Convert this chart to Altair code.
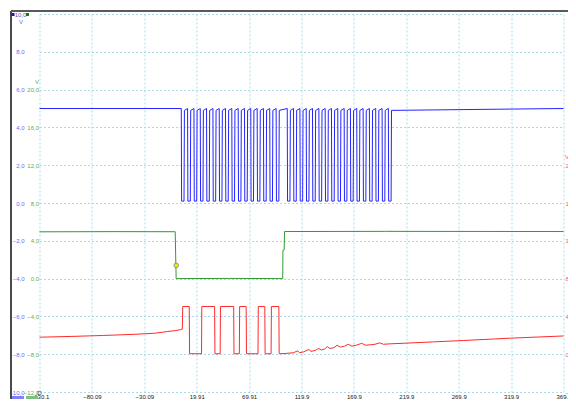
import altair as alt
import pandas as pd

# ---------------- data ----------------
x_ticks = [-130.09, -80.09, -30.09, 19.91, 69.91, 119.91, 169.91, 219.91, 269.91, 319.91, 369.91]
blue_ticks = [-10, -8, -6, -4, -2, 0, 2, 4, 6, 8, 10]
green_ticks = [-12, -8, -4, 0, 4, 8, 12, 16, 20]
red_ticks = [-4, 0, 4, 8, 12, 16, 20]

# blue channel: falling-edge times of each pulse (V: 5.0 high / 0.1 low)
blue_high = 5.0
blue_low = 0.1
blue_falls = [5.2, 11.2, 17.3, 23.3, 29.3, 35.4, 41.4, 47.4, 53.4, 59.5, 65.5, 71.5,
              77.6, 83.6, 89.6, 95.7,
              106.3, 112.3, 118.4, 124.4, 130.4, 136.5, 142.5, 148.5, 154.5, 160.6,
              166.6, 172.6, 178.7, 184.7, 190.7, 196.8, 202.8]
blue_low_len = [2.6] * len(blue_falls)

# green channel
green_t = [-130.09, -60.0, -0.6, 0.3, 50.0, 102.0, 102.2, 103.4, 103.7, 200.0, 369.91]
green_v = [4.95, 4.97, 4.96, 0.0, 0.02, 0.0, 3.0, 3.05, 4.98, 5.0, 4.98]
marker_t = [0.4]
marker_v = [1.4]

# red channel
red_pre_t = [-130.09, -100.0, -70.0, -40.0, -20.0, -8.0, 0.0, 4.6, 6.2]
red_pre_v = [1.8, 1.88, 1.98, 2.1, 2.22, 2.4, 2.5, 2.6, 2.65]
red_pulse_start = [6.6, 24.8, 42.6, 60.9, 78.7, 91.2]
red_pulse_end = [12.8, 37.0, 55.2, 67.1, 84.9, 98.3]
red_high = 5.05
red_low = 0.05
red_tail_t = [105.0, 112.0, 116.3, 118.0, 122.0, 126.9, 129.0, 133.0, 136.3, 139.0, 142.0,
              144.5, 147.0, 151.0, 153.9, 157.0, 161.0, 164.5, 168.0, 172.0, 177.4, 181.0,
              186.0, 190.0, 194.6, 198.0, 205.0, 218.0, 245.0, 274.5, 320.0, 369.91]
red_tail_v = [0.08, 0.15, 0.35, 0.15, 0.25, 0.5, 0.3, 0.4, 0.6, 0.45, 0.55,
              0.8, 0.6, 0.7, 0.95, 0.75, 0.85, 1.05, 0.85, 0.95, 1.15, 0.95,
              1.0, 1.05, 1.2, 1.05, 1.1, 1.16, 1.3, 1.45, 1.7, 1.93]

# ---------------- build tables ----------------
bt, bv = [-130.09], [blue_high]
for f, w in zip(blue_falls, blue_low_len):
    bt += [f, f + 0.3, f + w, f + w + 0.4]
    bv += [blue_high, blue_low, blue_low, blue_high - 0.1]
bt.append(369.91)
bv.append(blue_high)
blue_df = pd.DataFrame({"t": bt, "v": bv})

green_df = pd.DataFrame({"t": green_t, "v": green_v})
marker_df = pd.DataFrame({"t": marker_t, "v": marker_v})

rt, rv = list(red_pre_t), list(red_pre_v)
for i, (a, b) in enumerate(zip(red_pulse_start, red_pulse_end)):
    if i > 0:
        rt.append(a - 0.3)
        rv.append(red_low)
    rt += [a, b, b + 0.3]
    rv += [red_high, red_high, red_low]
rt += red_tail_t
rv += red_tail_v
red_df = pd.DataFrame({"t": rt, "v": rv})

# ---------------- chart ----------------
FONT = "Liberation Sans"
FS = 6
W, H = 524, 378
PL, PT, PR, PB = 31.5, 6, 4.5, 7
xscale = alt.Scale(domain=[-130.09, 369.91], nice=False, zero=False)
xaxis = alt.Axis(values=x_ticks, labelExpr="replace(format(datum.value, '.4r'), '.', ',')",
                 grid=True, gridColor="#a9d9ea", gridDash=[2, 2], ticks=False, domain=False,
                 labelFontSize=FS, labelColor="#202020", labelPadding=1.5, labelFlush=False,
                 labelOverlap=False, labelBound=False, title=None, labelFont=FONT)
x_enc = alt.X("t:Q", scale=xscale, axis=xaxis)

blue = alt.Chart(blue_df).mark_line(color="#2424ff", strokeWidth=1).encode(
    x=x_enc,
    y=alt.Y("v:Q", scale=alt.Scale(domain=[-10, 10], nice=False, zero=False),
            axis=alt.Axis(orient="left", values=blue_ticks,
                          labelExpr="datum.value == 10 ? '' : replace(format(datum.value, '.1f'), '.', ',')",
                          grid=True, gridColor="#a9d9ea", gridDash=[2, 2], ticks=False, domain=False,
                          labelColor="#6b6bf0", labelFontSize=FS, offset=13.5, labelPadding=2,
                          labelOverlap=False, title=None, labelFont=FONT)),
)

gscale = alt.Scale(domain=[-12, 28], nice=False, zero=False)
green = alt.Chart(green_df).mark_line(color="#2f9a2f", strokeWidth=1).encode(
    x=x_enc,
    y=alt.Y("v:Q", scale=gscale,
            axis=alt.Axis(orient="left", values=green_ticks,
                          labelExpr="replace(format(datum.value, '.1f'), '.', ',')",
                          grid=False, ticks=False, domain=False, labelColor="#5aac5a",
                          labelFontSize=FS, offset=0, labelPadding=1, labelOverlap=False,
                          title=None, labelFont=FONT)),
)

marker = alt.Chart(marker_df).mark_point(shape="circle", filled=True, fill="#f2e600",
                                          stroke="#888888", strokeWidth=0.8, size=22, opacity=1).encode(
    x=x_enc,
    y=alt.Y("v:Q", scale=gscale, axis=None),
)

red = alt.Chart(red_df).mark_line(color="#ff2a2a", strokeWidth=1).encode(
    x=x_enc,
    y=alt.Y("v:Q", scale=alt.Scale(domain=[-4, 36], nice=False, zero=False),
            axis=alt.Axis(orient="right", values=red_ticks,
                          labelExpr="replace(format(datum.value, '.1f'), '.', ',')",
                          grid=False, ticks=False, domain=False, labelColor="#ff5a5a",
                          labelFontSize=FS, labelPadding=1.5, labelOverlap=False,
                          title=None, labelFont=FONT)),
)

one = pd.DataFrame({"a": [0]})

frame_left = alt.Chart(one).mark_rule(color="#4a4a4a", strokeWidth=2).encode(
    x=alt.value(-28.5), y=alt.value(-3), y2=alt.value(H + PB))
frame_top = alt.Chart(one).mark_rule(color="#5a5a5a", strokeWidth=2).encode(
    x=alt.value(-28.5), x2=alt.value(W + PR), y=alt.value(-3))

sq_blue = alt.Chart(one).mark_square(color="#1a1aa0", size=9, opacity=1).encode(
    x=alt.value(-26.5), y=alt.value(0.5))
txt_top = alt.Chart(one).mark_text(fontSize=FS, color="#5a5ad0", font=FONT).encode(
    x=alt.value(-19), y=alt.value(1), text=alt.value("10,0"))
sq_green = alt.Chart(one).mark_square(color="#1a7a1a", size=9, opacity=1).encode(
    x=alt.value(-12), y=alt.value(0.5))

v_blue = alt.Chart(one).mark_text(fontSize=FS, color="#6b6bf0", font=FONT).encode(
    x=alt.value(-18.5), y=alt.value(8), text=alt.value("V"))
v_green = alt.Chart(one).mark_text(fontSize=FS, color="#5aac5a", font=FONT).encode(
    x=alt.value(-2.5), y=alt.value(67.5), text=alt.value("V"))
v_red = alt.Chart(one).mark_text(fontSize=FS, color="#ff5a5a", font=FONT, align="left").encode(
    x=alt.value(W + 1.5), y=alt.value(142.5), text=alt.value("V"))

bar_blue = alt.Chart(one).mark_rect(color="#7f7fff").encode(
    x=alt.value(-27.5), x2=alt.value(-15.5), y=alt.value(H + 4), y2=alt.value(H + PB))
bar_green = alt.Chart(one).mark_rect(color="#7fbf7f").encode(
    x=alt.value(-13.5), x2=alt.value(-1.5), y=alt.value(H + 4), y2=alt.value(H + PB))
origin_box = alt.Chart(one).mark_square(filled=False, color="#444444", size=10, strokeWidth=0.8).encode(
    x=alt.value(0), y=alt.value(H + 1))

chart = alt.layer(
    blue, green, red, marker,
    frame_left, frame_top, sq_blue, txt_top, sq_green,
    v_blue, v_green, v_red, bar_blue, bar_green, origin_box,
).resolve_scale(y="independent").properties(
    width=W, height=H,
    autosize=alt.AutoSizeParams(type="none"),
    padding={"left": PL, "top": PT, "right": PR, "bottom": PB},
    background="white",
).configure_view(stroke=None)

chart.save("out.html", embed_options={"renderer": "svg", "actions": False})
